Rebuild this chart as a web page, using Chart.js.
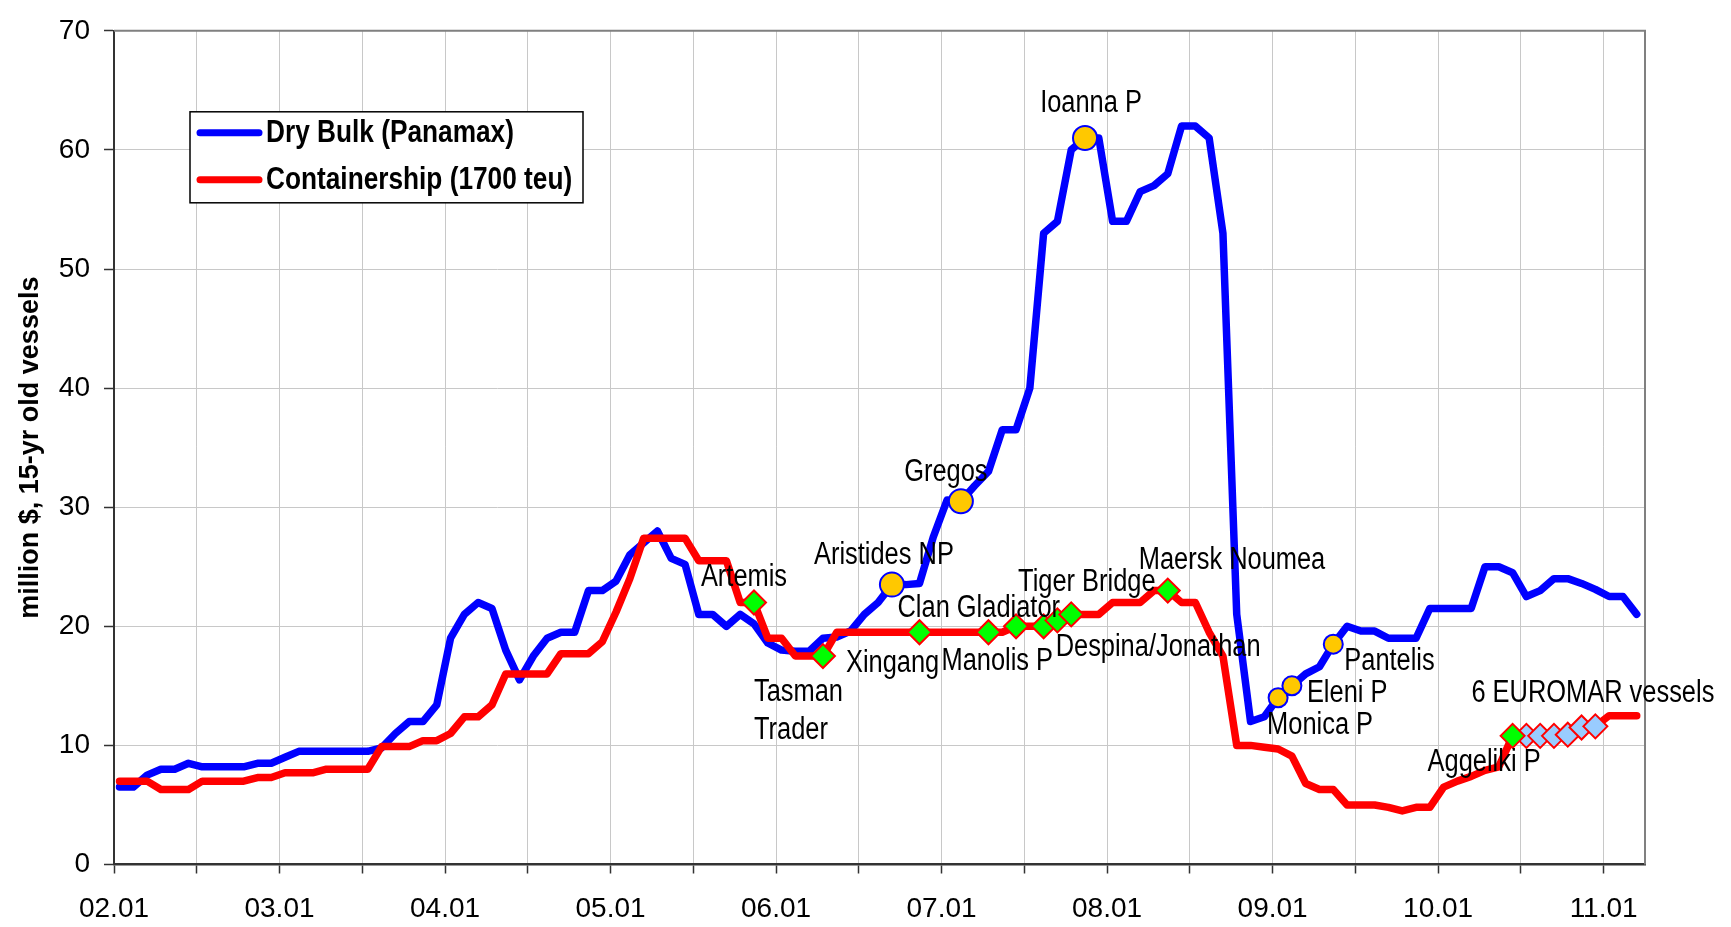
<!DOCTYPE html>
<html lang="en">
<head>
<meta charset="UTF-8">
<title>Second-hand prices: Dry Bulk vs Containership</title>
<style>
  html, body { margin: 0; padding: 0; background: #fff; }
  .containerCanva { position: relative; width: 1731px; height: 927px; }
</style>
</head>
<body>
<div class="containerCanva">
  <canvas id="myChart" width="1731" height="927"></canvas>
</div>
<script src="https://cdn.jsdelivr.net/npm/chart.js@4.4.1/dist/chart.umd.min.js"></script>
<script>
// one value per month, first month = Jan 2002, last = Mar 2011
const yearLabels = ['02.01', '03.01', '04.01', '05.01', '06.01', '07.01', '08.01', '09.01', '10.01', '11.01'];

const dryBulk = [
  6.5, 6.5, 7.5, 8.0, 8.0, 8.5, 8.2, 8.2, 8.2, 8.2, 8.5, 8.5,
  9.0, 9.5, 9.5, 9.5, 9.5, 9.5, 9.5, 9.8, 11.0, 12.0, 12.0, 13.4,
  19.0, 21.0, 22.0, 21.5, 18.0, 15.5, 17.5, 19.0, 19.5, 19.5, 23.0, 23.0,
  23.8, 26.0, 27.0, 28.0, 25.7, 25.2, 21.0, 21.0, 20.0, 21.0, 20.2, 18.6,
  18.0, 17.9, 17.9, 19.0, 19.1, 19.6, 21.0, 22.0, 23.5, 23.5, 23.6, 27.5,
  30.6, 30.5, 31.8, 33.0, 36.5, 36.5, 40.0, 53.0, 54.0, 60.0, 61.0, 61.0,
  54.0, 54.0, 56.5, 57.0, 58.0, 62.0, 62.0, 61.0, 53.0, 21.0, 12.0, 12.4,
  14.0, 15.0, 16.0, 16.6, 18.5, 20.0, 19.6, 19.6, 19.0, 19.0, 19.0, 21.5,
  21.5, 21.5, 21.5, 25.0, 25.0, 24.5, 22.5, 23.0, 24.0, 24.0, 23.6, 23.1,
  22.5, 22.5, 21.0
];

const containership = [
  7.0, 7.0, 7.0, 6.3, 6.3, 6.3, 7.0, 7.0, 7.0, 7.0, 7.3, 7.3,
  7.7, 7.7, 7.7, 8.0, 8.0, 8.0, 8.0, 9.9, 9.9, 9.9, 10.4, 10.4,
  11.0, 12.4, 12.4, 13.4, 16.0, 16.0, 16.0, 16.0, 17.7, 17.7, 17.7, 18.7,
  21.2, 24.0, 27.4, 27.4, 27.4, 27.4, 25.5, 25.5, 25.5, 22.0, 22.0, 19.0,
  19.0, 17.5, 17.5, 17.5, 19.5, 19.5, 19.5, 19.5, 19.5, 19.5, 19.5, 19.5,
  19.5, 19.5, 19.5, 19.5, 19.5, 20.0, 20.0, 20.0, 20.5, 21.0, 21.0, 21.0,
  22.0, 22.0, 22.0, 23.0, 23.0, 22.0, 22.0, 19.5, 17.5, 10.0, 10.0, 9.85,
  9.7, 9.1, 6.8, 6.3, 6.3, 5.0, 5.0, 5.0, 4.8, 4.5, 4.8, 4.8,
  6.5, 7.0, 7.4, 7.9, 8.2, 10.8, 10.8, 10.8, 10.8, 10.9, 11.5, 11.6,
  12.5, 12.5, 12.5
];

// month index (0 = Jan 2002) of each vessel purchase
const bulkShipMonths = [56, 61, 70, 84, 85, 88];
const containerShipMonths = [46, 51, 58, 63, 65, 67, 68, 69, 76, 101];
const euromarMonths = [102, 103, 104, 105, 106, 107];

// text, series, month the label belongs to
const shipNotes = [
  ['Aristides NP', 'bulk', 56],
  ['Gregos', 'bulk', 61],
  ['Ioanna P', 'bulk', 70],
  ['Monica P', 'bulk', 84],
  ['Eleni P', 'bulk', 85],
  ['Pantelis', 'bulk', 88],
  ['Artemis', 'cont', 46],
  ['Xingang', 'cont', 51],
  ['Tasman\nTrader', 'cont', 51],
  ['Clan Gladiator', 'cont', 58],
  ['Manolis P', 'cont', 63],
  ['Tiger Bridge', 'cont', 65],
  ['Despina/Jonathan', 'cont', 67],
  ['Maersk Noumea', 'cont', 76],
  ['Aggeliki P', 'cont', 101],
  ['6 EUROMAR vessels', 'cont', 102]
];

// where each label sits relative to its marker: dx, dy, align
const noteOffsets = [
  [-8, -29, 'center'], [-15, -29, 'center'], [6, -35, 'center'],
  [-11, 28, 'left'], [15, 8, 'left'], [11, 17, 'left'],
  [-10, -25, 'center'], [23, 7, 'left'], [-69, 36, 'left'],
  [-22, -24, 'left'], [-47, 29, 'left'], [2, -44, 'left'],
  [12, 21, 'left'], [-29, -30, 'left'], [-85, 27, 'left'], [-55, -42, 'left']
];

const POINT_SHIFT = 0.4;   // points sit a little after the month start
const FONT = "'Liberation Sans', Arial, sans-serif";
const NARROW = 0.82;       // squeeze Liberation Sans to look like Arial Narrow

const seriesFor = s => (s === 'bulk' ? dryBulk : containership);
const toPoints = values => values.map((v, i) => ({ x: i + POINT_SHIFT, y: v }));
const markPoints = (months, values) => months.map(m => ({ x: m + POINT_SHIFT, y: values[m] }));

function narrowText(ctx, text, x, y, align) {
  ctx.save();
  ctx.translate(x, y);
  ctx.scale(NARROW, 1);
  ctx.textAlign = align;
  ctx.fillText(text, 0, 0);
  ctx.restore();
}

const plotFrame = {
  id: 'plotFrame',
  beforeDatasetsDraw(chart) {
    const { ctx, chartArea: a } = chart;
    ctx.save();
    ctx.strokeStyle = '#808080';
    ctx.lineWidth = 2;
    ctx.beginPath();
    ctx.moveTo(a.left, a.top);
    ctx.lineTo(a.right, a.top);
    ctx.lineTo(a.right, a.bottom);
    ctx.stroke();
    ctx.restore();
  }
};

const shipLabels = {
  id: 'shipLabels',
  afterDatasetsDraw(chart) {
    const { ctx, scales: { x, y } } = chart;
    ctx.save();
    ctx.font = '31px ' + FONT;
    ctx.fillStyle = '#000';
    ctx.textBaseline = 'middle';
    shipNotes.forEach(([text, series, month], k) => {
      const [dx, dy, align] = noteOffsets[k];
      const px = x.getPixelForValue(month + POINT_SHIFT);
      const py = y.getPixelForValue(seriesFor(series)[month]);
      text.split('\n').forEach((line, n) => narrowText(ctx, line, px + dx, py + dy + n * 38, align));
    });
    ctx.restore();
  }
};

const boxLegend = {
  id: 'boxLegend',
  afterDraw(chart) {
    const { ctx, chartArea: a } = chart;
    const items = ['Dry Bulk (Panamax)', 'Containership (1700 teu)']
      .map(lbl => chart.data.datasets.find(d => d.label === lbl));
    const left = a.left + 76, top = a.top + 81;
    ctx.save();
    ctx.fillStyle = '#fff';
    ctx.fillRect(left, top, 393, 91);
    ctx.strokeStyle = '#000';
    ctx.lineWidth = 1.5;
    ctx.strokeRect(left, top, 393, 91);
    ctx.font = 'bold 32px ' + FONT;
    ctx.textBaseline = 'middle';
    items.forEach((d, k) => {
      const yy = top + 21 + k * 47;
      ctx.strokeStyle = d.borderColor;
      ctx.lineWidth = 7;
      ctx.lineCap = 'round';
      ctx.beginPath();
      ctx.moveTo(left + 10, yy);
      ctx.lineTo(left + 69, yy);
      ctx.stroke();
      ctx.fillStyle = '#000';
      narrowText(ctx, d.label, left + 76, yy, 'left');
    });
    ctx.restore();
  }
};

Chart.defaults.font.family = FONT;
Chart.defaults.color = '#000';

const ctx = document.getElementById('myChart').getContext('2d');
const myChart = new Chart(ctx, {
  type: 'line',
  data: {
    datasets: [
      {
        label: 'bulk purchases',
        data: markPoints(bulkShipMonths, dryBulk),
        showLine: false,
        pointStyle: 'circle',
        pointRadius: [12, 12, 12, 9.5, 9.5, 9.5],
        pointBackgroundColor: '#FFC800',
        pointBorderColor: '#0000FF',
        pointBorderWidth: 2
      },
      {
        label: 'container purchases',
        data: markPoints(containerShipMonths, containership),
        showLine: false,
        pointStyle: 'rectRot',
        pointRadius: 12,
        pointBackgroundColor: '#00FF00',
        pointBorderColor: '#FF0000',
        pointBorderWidth: 2
      },
      {
        label: 'EUROMAR purchases',
        data: markPoints(euromarMonths, containership),
        showLine: false,
        pointStyle: 'rectRot',
        pointRadius: 12,
        pointBackgroundColor: '#99CCFF',
        pointBorderColor: '#FF0000',
        pointBorderWidth: 2
      },
      {
        label: 'Containership (1700 teu)',
        data: toPoints(containership),
        borderColor: '#FF0000',
        borderWidth: 7.5,
        pointRadius: 0,
        tension: 0,
        borderJoinStyle: 'round',
        borderCapStyle: 'round'
      },
      {
        label: 'Dry Bulk (Panamax)',
        data: toPoints(dryBulk),
        borderColor: '#0000FF',
        borderWidth: 7.5,
        pointRadius: 0,
        tension: 0,
        borderJoinStyle: 'round',
        borderCapStyle: 'round'
      }
    ]
  },
  options: {
    responsive: false,
    animation: false,
    events: [],
    layout: { padding: { top: 27, right: 86, left: 0, bottom: 0 } },
    plugins: {
      legend: { display: false },
      tooltip: { enabled: false }
    },
    scales: {
      x: {
        type: 'linear',
        min: 0,
        max: 111,
        afterFit: s => { s.height = 62.5; },
        grid: { color: '#c8c8c8', lineWidth: 1, tickLength: 9, tickColor: '#333', tickWidth: 1.5 },
        border: { display: true, color: '#333', width: 2.5 },
        ticks: {
          stepSize: 6,
          includeBounds: false,
          autoSkip: false,
          maxRotation: 0,
          padding: 19,
          font: { size: 28 },
          callback: v => (v % 12 === 0 ? yearLabels[v / 12] : '')
        }
      },
      y: {
        min: 0,
        max: 70,
        afterFit: s => { s.width = 114; },
        grid: { color: '#c8c8c8', lineWidth: 1, tickLength: 10, tickColor: '#333', tickWidth: 1.5 },
        border: { display: true, color: '#333', width: 2 },
        ticks: { stepSize: 10, padding: 14, font: { size: 28 } },
        title: {
          display: true,
          text: 'million $, 15-yr old vessels',
          font: { size: 27, weight: 'bold' },
          padding: { top: 14, bottom: 0 }
        }
      }
    }
  },
  plugins: [plotFrame, shipLabels, boxLegend]
});
</script>
</body>
</html>
